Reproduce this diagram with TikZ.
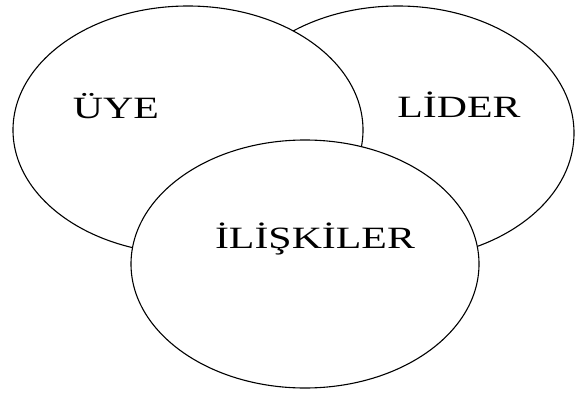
\documentclass[tikz,border=0pt]{standalone}
\usepackage{fontspec}
\newfontfamily\labelfont[FakeStretch=1.35]{Liberation Serif}
\usetikzlibrary{shapes.geometric}

\begin{document}
\begin{tikzpicture}[x=1pt,y=1pt,
  oval/.style={draw,ellipse,line width=1.1pt,fill=white,inner sep=0pt},
  word/.style={anchor=base,inner sep=0pt,font=\labelfont\fontsize{31}{31}\selectfont}]
\useasboundingbox (0,0) rectangle (575,392);
\node[oval,minimum width=352pt,minimum height=254pt](lider) at (398,259){};
\node[oval,minimum width=350pt,minimum height=248pt](uye) at (188,262){};
\node[oval,minimum width=348pt,minimum height=248pt](iliski) at (305,128){};
\node[word](uyetext) at (116,274){ÜYE};
\node[word](lidertext) at (459,275){LİDER};
\node[word](iliskitext) at (315,144){İLİŞKİLER};
\end{tikzpicture}
\end{document}
